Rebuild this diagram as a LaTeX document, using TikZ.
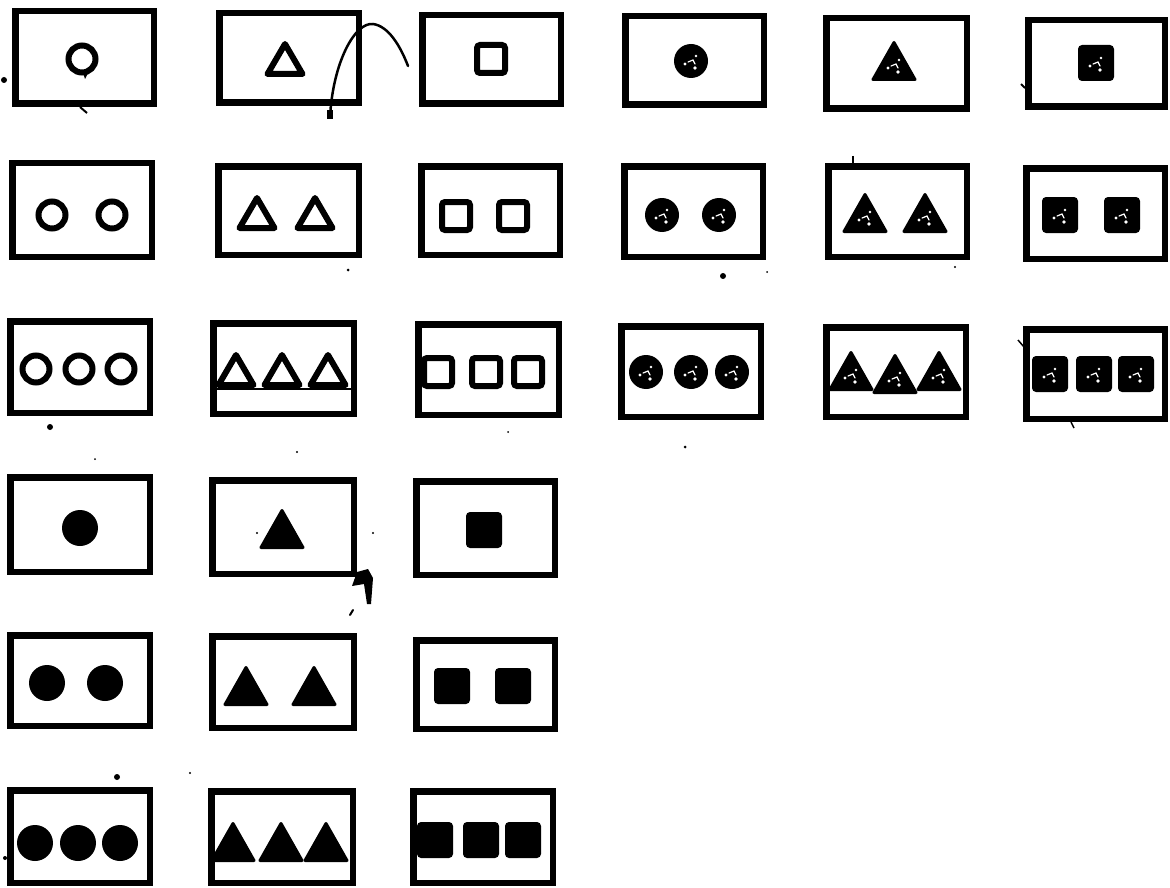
\documentclass[tikz,border=0pt]{standalone}
\begin{document}
\begin{tikzpicture}[x=1pt,y=-1pt,
  card/.style={draw, line width=6.5pt, inner sep=0pt},
  specks/.pic={\fill[white] (-6,3) circle (1.6pt) (5,-5) circle (1.3pt) (4,7) circle (1.8pt);
               \draw[white, line width=1.2pt, line cap=round] (-3,1) -- (2,-1) -- (4,3);},
  oc/.pic={\draw[line width=6pt] (0,0) circle (13.5pt);},
  ot/.pic={\draw[line width=6pt, line join=round] (0,-15) -- (17.5,15) -- (-17.5,15) -- cycle;},
  os/.pic={\draw[line width=6pt, rounded corners=3pt] (-14,-14) rectangle (14,14);},
  fc/.pic={\fill (0,0) circle (18pt);},
  ft/.pic={\filldraw[line width=3pt, line join=round] (0,-18.5) -- (21,18.5) -- (-21,18.5) -- cycle;},
  fs/.pic={\fill[rounded corners=4pt] (-18,-18) rectangle (18,18);},
  pc/.pic={\fill (0,0) circle (17pt); \pic {specks};},
  pt/.pic={\filldraw[line width=3pt, line join=round] (0,-18.5) -- (21,18.5) -- (-21,18.5) -- cycle; \pic at (0,4) {specks};},
  ps/.pic={\fill[rounded corners=4pt] (-18,-18) rectangle (18,18); \pic {specks};}
]
\fill[white] (0,0) rectangle (1170,888);
\useasboundingbox (0,0) rectangle (1170,888);
\newcommand\crd[5]{\node[card, minimum width=#4pt, minimum height=#5pt] (#1) at (#2,#3) {};}
% row 1
\crd{r1c1}{84.5}{57.5}{138.5}{92.5}
\crd{r1c2}{289}{58}{139.5}{89.5}
\crd{r1c3}{491.5}{59.5}{138.5}{88.5}
\crd{r1c4}{694.5}{60.5}{138.5}{88.5}
\crd{r1c5}{896.5}{63.5}{140.5}{90.5}
\crd{r1c6}{1096.5}{63.5}{136.5}{86.5}
% row 2
\crd{r2c1}{82}{210}{139.5}{93.5}
\crd{r2c2}{288.5}{210.5}{140.5}{88.5}
\crd{r2c3}{490.5}{210.5}{138.5}{88.5}
\crd{r2c4}{693.5}{211.5}{138.5}{90.5}
\crd{r2c5}{897.5}{211.5}{138.5}{90.5}
\crd{r2c6}{1095.5}{213.5}{138.5}{90.5}
% row 3
\crd{r3c1}{80}{367}{139.5}{91.5}
\crd{r3c2}{283.5}{368.5}{140.5}{90.5}
\crd{r3c3}{488.5}{369.5}{140.5}{90.5}
\crd{r3c4}{691}{371.5}{139.5}{90.5}
\crd{r3c5}{896}{372}{139.5}{89.5}
\crd{r3c6}{1095.5}{374}{138.5}{89.5}
% row 4
\crd{r4c1}{80}{524.5}{139.5}{94.5}
\crd{r4c2}{283}{527}{141.5}{93.5}
\crd{r4c3}{485.5}{528}{138.5}{93.5}
% row 5
\crd{r5c1}{80}{680.5}{139.5}{90.5}
\crd{r5c2}{283}{682}{141.5}{91.5}
\crd{r5c3}{485.5}{684.5}{138.5}{88.5}
% row 6
\crd{r6c1}{80}{836.5}{139.5}{92.5}
\crd{r6c2}{282}{837}{141.5}{91.5}
\crd{r6c3}{483}{837}{139.5}{91.5}

% shapes row 1
\pic at (82,59) {oc};
\fill (83,73) -- (88,73) -- (85,79) -- cycle;
\pic at (285,59) {ot};
\pic at (491,59) {os};
\pic at (691,61) {pc};
\pic at (894,61) {pt};
\pic at (1096,63) {ps};
% row 2
\foreach \x in {52,112} \pic at (\x,215) {oc};
\foreach \x in {257,315} \pic at (\x,213) {ot};
\foreach \x in {456,513} \pic at (\x,216) {os};
\foreach \x in {662,719} \pic at (\x,215) {pc};
\foreach \x in {865,925} \pic at (\x,213) {pt};
\foreach \x in {1060,1122} \pic at (\x,215) {ps};
% row 3
\foreach \x in {36,79,121} \pic at (\x,369) {oc};
\foreach \x in {236,282,328} \pic at (\x,370) {ot};
\draw[line width=2pt] (212,389) -- (355,389);
\foreach \x in {438,486,528} \pic at (\x,372) {os};
\foreach \x in {646,691,732} \pic at (\x,372) {pc};
\pic at (851,371) {pt};
\pic at (895,374) {pt};
\pic at (939,371) {pt};
\foreach \x in {1050,1094,1136} \pic at (\x,374) {ps};
% row 4
\pic at (80,528) {fc};
\pic at (282,529) {ft};
\pic at (484,530) {fs};
% row 5
\foreach \x in {47,105} \pic at (\x,683) {fc};
\foreach \x in {246,314} \pic at (\x,686) {ft};
\foreach \x in {452,513} \pic at (\x,686) {fs};
% row 6
\foreach \x in {35,78,120} \pic at (\x,843) {fc};
\foreach \x in {233,281,326} \pic at (\x,842) {ft};
\foreach \x in {435,481,523} \pic at (\x,840) {fs};

% stray marks
\draw[line width=2.5pt, line cap=round] (330,117) .. controls (333,62) and (355,22) .. (373,24)
  .. controls (388,26) and (400,45) .. (408,66);
\fill (327,110) rectangle (333,119);
\draw[line width=2pt] (80,107) -- (87,113);
\fill (357,572) -- (368,569) -- (373,578) -- (371,604) -- (367,604) -- (364,584) -- (352,586) -- cycle;
\draw[line width=2pt, line cap=round] (350,615) -- (353,610);
\foreach \p/\r in {(4,80)/3, (348,270)/1.5, (723,276)/3, (767,272)/1, (955,267)/1.2,
  (50,427)/3, (95,459)/1, (297,452)/1.2, (508,432)/1, (685,447)/1.5,
  (117,777)/3, (190,773)/1.2, (257,533)/1.2, (373,533)/1.2, (5,858)/2}
  \fill \p circle (\r pt);
\draw[line width=2pt] (853,156) -- (853,164);
\draw[line width=2pt] (1021,84) -- (1025,88);
\draw[line width=1.5pt] (1018,340) -- (1024,347);
\draw[line width=1.5pt] (1071,422) -- (1074,428);
\end{tikzpicture}
\end{document}
